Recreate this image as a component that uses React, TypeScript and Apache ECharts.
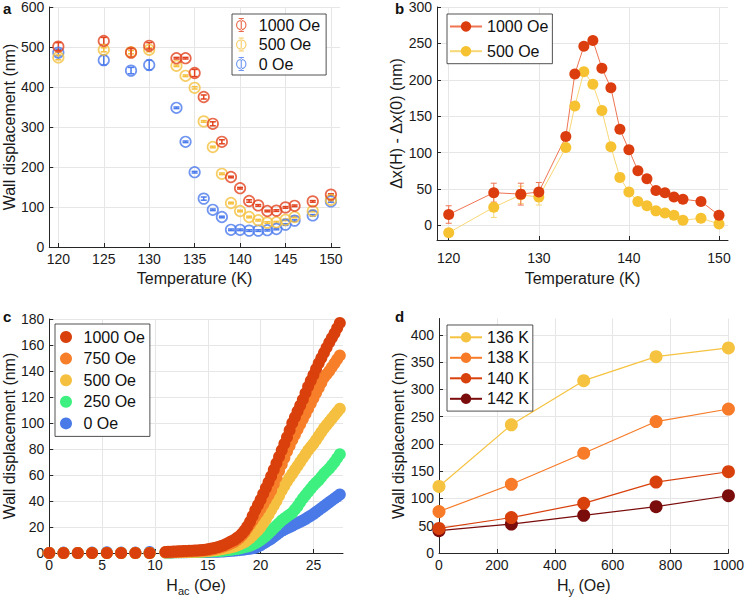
import React, { useEffect, useRef } from 'react';
import * as echarts from 'echarts';

// ---------- Data ----------
const tempK = [120, 125, 128, 130, 133, 134, 135, 136, 137, 138, 139, 140, 141, 142, 143, 144, 145, 146, 148, 150];
// panel a: wall displacement (nm)
const wallA1000 = [501, 515, 486, 503, 472, 472, 435, 375, 308, 263, 175, 147, 115, 104, 90, 91, 99, 103, 114, 131];
const wallA500 = [474, 493, 487, 493, 453, 428, 398, 314, 250, 183, 110, 90, 75, 67, 61, 62, 68, 75, 90, 118];
const wallA0 = [486, 467, 441, 455, 348, 263, 187, 121, 93, 75, 43, 43, 41, 41, 42, 45, 56, 66, 79, 114];
const errA1000 = [10, 9, 10, 8, 2, 2, 9, 5, 5, 5, 2, 2, 3, 2, 2, 2, 2, 2, 2, 2];
const errA500 = [6, 5, 4, 5, 2, 2, 3, 2, 2, 2, 2, 2, 2, 2, 2, 2, 2, 2, 2, 2];
const errA0 = [8, 12, 8, 12, 2, 2, 2, 4, 2, 2, 2, 2, 2, 2, 2, 2, 2, 2, 2, 2];
// panel b: Δx(H) - Δx(0) (nm)
const diffB1000 = [15, 45, 43, 46, 122, 208, 246, 254, 216, 189, 132, 104, 75, 64, 48, 45, 39, 36, 33, 14];
const diffB500 = [-10, 25, 42, 39, 107, 164, 211, 194, 158, 108, 66, 46, 33, 27, 20, 17, 14, 7, 10, 2];
const errB1000 = [12, 13, 15, 13, 3, 3, 3, 3, 3, 3, 3, 3, 3, 3, 3, 3, 3, 3, 3, 3];
const errB500 = [4, 14, 12, 11, 3, 3, 3, 3, 3, 3, 3, 3, 3, 3, 3, 3, 3, 3, 3, 3];
// panel c: wall displacement vs H_ac
const hacOe = [0, 1.35, 2.7, 4.05, 5.45, 6.8, 8.15, 9.5,
  11, 11.25, 11.5, 11.75, 12, 12.25, 12.5, 12.75, 13, 13.25, 13.5, 13.75, 14, 14.25, 14.5, 14.75,
  15, 15.25, 15.5, 15.75, 16, 16.25, 16.5, 16.75, 17, 17.25, 17.5, 17.75, 18, 18.25, 18.5, 18.75,
  19, 19.25, 19.5, 19.75, 20, 20.25, 20.5, 20.75, 21, 21.25, 21.5, 21.75, 22, 22.25, 22.5, 22.75,
  23, 23.25, 23.5, 23.75, 24, 24.25, 24.5, 24.75, 25, 25.25, 25.5, 25.75, 26, 26.25, 26.5, 26.75,
  27, 27.25, 27.5];
const wallC1000 = [0, 0, 0, 0, 0, 0, 0, 0,
  0.8, 0.9, 1.0, 1.1, 1.2, 1.3, 1.4, 1.5, 1.6, 1.7, 1.8, 1.9, 2.0, 2.1, 2.3, 2.5,
  2.8, 3.2, 3.6, 4.1, 4.6, 5.3, 6, 7, 8, 9, 10, 11.5, 13, 15, 17.5, 20.5,
  24, 28.5, 33, 37, 41, 45.5, 50, 54.5, 59, 64, 69, 74, 79, 84, 89, 94.5,
  100, 104.5, 109, 113.5, 118, 123, 128, 132.5, 137, 141.5, 146, 150, 154, 158, 162, 165.5,
  169, 173, 177];
const wallC750 = [0, 0, 0, 0, 0, 0, 0, 0,
  0.5, 0.55, 0.6, 0.7, 0.8, 0.9, 1.0, 1.1, 1.2, 1.3, 1.4, 1.5, 1.6, 1.7, 1.8, 1.9,
  2.1, 2.4, 2.8, 3.3, 3.8, 4.4, 5, 5.7, 6.5, 7.5, 8.5, 10, 11.5, 13.5, 16, 19,
  22, 25, 28, 31, 34, 37.5, 41, 44.5, 48, 53, 58, 63, 68, 73, 78, 82.5,
  87, 91, 95, 99, 103, 107, 111, 115, 119, 123, 127, 131, 135, 137.5, 140, 143,
  146, 149, 152];
const wallC500 = [0, 0, 0, 0, 0, 0, 0, 0,
  0.4, 0.45, 0.5, 0.55, 0.6, 0.65, 0.7, 0.75, 0.8, 0.85, 0.9, 0.95, 1.0, 1.1, 1.2, 1.35,
  1.5, 1.7, 2, 2.2, 2.5, 2.8, 3.2, 3.6, 4, 4.5, 5, 5.7, 6.5, 7.5, 8.5, 10,
  11.5, 13.5, 15.5, 17.5, 20, 23, 26, 29.5, 33, 36.5, 40, 44, 48, 51.5, 55, 58,
  61, 64, 67, 70, 73, 76, 79, 81.5, 84, 87, 90, 93, 96, 98.5, 101, 103.5,
  106, 108.5, 111];
const wallC250 = [0, 0, 0, 0, 0, 0, 0, 0,
  0.3, 0.35, 0.4, 0.45, 0.5, 0.55, 0.6, 0.65, 0.7, 0.75, 0.8, 0.85, 0.9, 0.95, 1.0, 1.05,
  1.1, 1.2, 1.3, 1.4, 1.5, 1.6, 1.8, 2, 2.2, 2.5, 2.8, 3.1, 3.5, 4, 4.5, 5,
  5.5, 6.5, 7.5, 8.7, 10, 11.5, 13, 15, 17, 19, 21, 23, 25, 26.5, 28, 29.5,
  31, 33.5, 36, 39, 42, 44.5, 47, 49.5, 52, 54, 56, 58.5, 61, 63, 65, 67.5,
  70, 73, 76];
const wallC0 = [0, 0.3, 0, 0.3, 0.6, 0.3, 0.3, 0.8,
  0.3, 0.35, 0.4, 0.45, 0.5, 0.55, 0.6, 0.6, 0.6, 0.65, 0.7, 0.7, 0.7, 0.75, 0.8, 0.8,
  0.8, 0.85, 0.9, 0.95, 1.0, 1.1, 1.2, 1.35, 1.5, 1.65, 1.8, 2.0, 2.2, 2.45, 2.7, 3.0,
  3.3, 3.6, 4, 5, 6, 7.2, 8.5, 9.7, 11, 12.5, 14, 15.5, 17, 18, 19, 20,
  21, 22, 23, 24, 25, 26.2, 27.5, 28.7, 30, 31.5, 33, 34.5, 36, 37.5, 39, 40.5,
  42, 43.5, 45];
// panel d: wall displacement vs H_y
const hyOe = [0, 250, 500, 750, 1000];
const wallD136 = [122, 235, 316, 360, 376];
const wallD138 = [76, 126, 183, 241, 264];
const wallD140 = [45, 65, 91, 130, 149];
const wallD142 = [41, 53, 69, 85, 105];

// tick labels
const ticksAX = [120, 125, 130, 135, 140, 145, 150];
const ticksAY = [0, 100, 200, 300, 400, 500, 600];
const ticksBX = [120, 130, 140, 150];
const ticksBY = [0, 50, 100, 150, 200, 250, 300];
const ticksCX = [0, 5, 10, 15, 20, 25];
const ticksCY = [0, 20, 40, 60, 80, 100, 120, 140, 160, 180];
const ticksDX = [0, 200, 400, 600, 800, 1000];
const ticksDY = [0, 50, 100, 150, 200, 250, 300, 350, 400];

// ---------- Styling ----------
const FONT = '"Liberation Sans", Arial, Helvetica, sans-serif';
const AXIS_COLOR = '#262626';
const GRID_COLOR = '#e6e6e6';

const colA = { r: '#e2431e', y: '#f5c03e', b: '#4b7bec' };
const colB = { r: '#dc3d0e', rl: '#ee7452', y: '#f6c232', yl: '#f8d775' };
const colC = { r: '#d9400c', o: '#f77f2a', y: '#f5c040', g: '#3ef07f', b: '#4a7ae8' };
const colD = { k136: '#f6c340', k138: '#f77b28', k140: '#d8400c', k142: '#7a0c0c' };

const ringBarIcon =
  'path://M4,10 A6,6 0 1,0 16,10 A6,6 0 1,0 4,10 Z M5.3,10 A4.7,4.7 0 1,1 14.7,10 A4.7,4.7 0 1,1 5.3,10 Z ' +
  'M9.35,2 L10.65,2 L10.65,18 L9.35,18 Z M7,2 L13,2 L13,3.2 L7,3.2 Z M7,16.8 L13,16.8 L13,18 L7,18 Z';

const plainNum = (v: number) => String(v);

function makeAxis(gridIndex: number, min: number, max: number, ticks: number[], extra: any = {}) {
  return {
    gridIndex,
    type: 'value',
    min,
    max,
    axisLine: { show: true, onZero: false, lineStyle: { color: AXIS_COLOR, width: 1 } },
    axisTick: { show: true, inside: true, length: 4, customValues: ticks, lineStyle: { color: AXIS_COLOR } },
    axisLabel: { customValues: ticks, fontSize: 14, color: '#1a1a1a', margin: 5, fontFamily: FONT, formatter: plainNum },
    splitLine: { show: true, lineStyle: { color: GRID_COLOR, width: 1 } },
    nameTextStyle: { fontSize: 16, color: '#1a1a1a', fontFamily: FONT },
    ...extra,
  };
}

function errRender(color: string, width: number) {
  return (params: any, api: any) => {
    const x = api.value(0);
    const y = api.value(1);
    const e = api.value(2);
    const p1 = api.coord([x, y + e]);
    const p2 = api.coord([x, y - e]);
    const hw = 3;
    const style = { stroke: color, lineWidth: width, fill: 'none' };
    return {
      type: 'group',
      children: [
        { type: 'line', shape: { x1: p1[0], y1: p1[1], x2: p2[0], y2: p2[1] }, style },
        { type: 'line', shape: { x1: p1[0] - hw, y1: p1[1], x2: p1[0] + hw, y2: p1[1] }, style },
        { type: 'line', shape: { x1: p2[0] - hw, y1: p2[1], x2: p2[0] + hw, y2: p2[1] }, style },
      ],
    };
  };
}

function errSeries(name: string, axis: number, xs: number[], ys: number[], es: number[], color: string, width: number) {
  return {
    name,
    type: 'custom',
    xAxisIndex: axis,
    yAxisIndex: axis,
    silent: true,
    renderItem: errRender(color, width),
    encode: { x: 0, y: 1 },
    data: xs.map((x, i) => [x, ys[i], es[i]]),
  };
}

function openScatter(name: string, ys: number[], color: string) {
  return {
    name,
    type: 'scatter',
    xAxisIndex: 0,
    yAxisIndex: 0,
    symbol: 'circle',
    symbolSize: 10.5,
    itemStyle: { color: 'rgba(0,0,0,0)', borderColor: color, borderWidth: 1.7 },
    data: tempK.map((t, i) => [t, ys[i]]),
  };
}

function lineB(name: string, ys: number[], color: string, light: string) {
  return {
    name,
    type: 'line',
    xAxisIndex: 1,
    yAxisIndex: 1,
    symbol: 'circle',
    symbolSize: 11,
    lineStyle: { color: light, width: 1 },
    itemStyle: { color },
    data: tempK.map((t, i) => [t, ys[i]]),
  };
}

function scatterC(name: string, ys: number[], color: string) {
  return {
    name,
    type: 'scatter',
    xAxisIndex: 2,
    yAxisIndex: 2,
    symbol: 'circle',
    symbolSize: 12,
    itemStyle: { color, opacity: 1 },
    data: hacOe.map((h, i) => [h, ys[i]]),
  };
}

function lineD(name: string, ys: number[], color: string) {
  return {
    name,
    type: 'line',
    xAxisIndex: 3,
    yAxisIndex: 3,
    symbol: 'circle',
    symbolSize: 13,
    lineStyle: { color, width: 1.2 },
    itemStyle: { color },
    data: hyOe.map((h, i) => [h, ys[i]]),
  };
}

const stripName = (n: string) => n.split('|')[1];

function buildOption() {
  const legendText = { fontSize: 16, color: '#111', fontFamily: FONT };
  const subRich = {
    n: { fontSize: 16, color: '#1a1a1a', fontFamily: FONT },
    s: { fontSize: 11, color: '#1a1a1a', fontFamily: FONT, padding: [10, 0, 0, 0] },
  };
  return {
    animation: false,
    backgroundColor: '#ffffff',
    textStyle: { fontFamily: FONT },
    title: [
      { text: 'a', left: 3, top: 1, padding: 0, textStyle: { fontSize: 15, fontWeight: 'bold', color: '#111', fontFamily: FONT } },
      { text: 'b', left: 395, top: 1, padding: 0, textStyle: { fontSize: 15, fontWeight: 'bold', color: '#111', fontFamily: FONT } },
      { text: 'c', left: 3, top: 309, padding: 0, textStyle: { fontSize: 15, fontWeight: 'bold', color: '#111', fontFamily: FONT } },
      { text: 'd', left: 395, top: 309, padding: 0, textStyle: { fontSize: 15, fontWeight: 'bold', color: '#111', fontFamily: FONT } },
    ],
    grid: [
      { left: 48, top: 6, width: 292, height: 241 },
      { left: 437, top: 7, width: 291, height: 233 },
      { left: 47.5, top: 319, width: 295.5, height: 234 },
      { left: 439, top: 318.5, width: 292, height: 234.5 },
    ],
    xAxis: [
      makeAxis(0, 119, 151, ticksAX, { name: 'Temperature (K)', nameLocation: 'middle', nameGap: 23 }),
      makeAxis(1, 118.7, 151, ticksBX, {
        name: 'Temperature (K)', nameLocation: 'middle', nameGap: 30,
        axisLabel: { customValues: ticksBX, fontSize: 14, color: '#1a1a1a', margin: 11, fontFamily: FONT, formatter: plainNum },
      }),
      makeAxis(2, 0, 27.8, ticksCX, {
        name: '{n|H}{s|ac}{n| (Oe)}', nameLocation: 'middle', nameGap: 22,
        nameTextStyle: { fontSize: 16, color: '#1a1a1a', fontFamily: FONT, rich: subRich },
      }),
      makeAxis(3, 0, 1000, ticksDX, {
        interval: 200,
        name: '{n|H}{s|y}{n| (Oe)}', nameLocation: 'middle', nameGap: 22,
        nameTextStyle: { fontSize: 16, color: '#1a1a1a', fontFamily: FONT, rich: subRich },
      }),
    ],
    yAxis: [
      makeAxis(0, 0, 600, ticksAY, { interval: 100, name: 'Wall displacement (nm)', nameLocation: 'middle', nameGap: 31 }),
      makeAxis(1, -20, 300, ticksBY, { name: 'Δx(H) - Δx(0) (nm)', nameLocation: 'middle', nameGap: 32 }),
      makeAxis(2, 0, 180, ticksCY, { interval: 20, name: 'Wall displacement (nm)', nameLocation: 'middle', nameGap: 31 }),
      makeAxis(3, 0, 430, ticksDY, { name: 'Wall displacement (nm)', nameLocation: 'middle', nameGap: 32 }),
    ],
    legend: [
      {
        orient: 'vertical', left: 232, top: 14, itemWidth: 25, itemHeight: 14, itemGap: 3.5,
        padding: [3, 6, 3, 4], borderColor: AXIS_COLOR, borderWidth: 0.8, backgroundColor: '#fff',
        textStyle: legendText, formatter: stripName, selectedMode: false,
        data: [
          { name: 'a|1000 Oe', icon: ringBarIcon, itemStyle: { color: colA.r, borderWidth: 0 } },
          { name: 'a|500 Oe', icon: ringBarIcon, itemStyle: { color: colA.y, borderWidth: 0 } },
          { name: 'a|0 Oe', icon: ringBarIcon, itemStyle: { color: colA.b, borderWidth: 0 } },
        ],
      },
      {
        orient: 'vertical', left: 447, top: 14, itemWidth: 32, itemHeight: 13, itemGap: 8.7,
        padding: [4.5, 4, 4.5, 2], borderColor: AXIS_COLOR, borderWidth: 0.8, backgroundColor: '#fff',
        textStyle: legendText, formatter: stripName, selectedMode: false,
        data: ['b|1000 Oe', 'b|500 Oe'],
      },
      {
        orient: 'vertical', left: 55, top: 324, itemWidth: 25, itemHeight: 12, itemGap: 5.6, icon: 'circle',
        padding: [5, 5, 5, 5], borderColor: AXIS_COLOR, borderWidth: 0.8, backgroundColor: '#fff',
        textStyle: legendText, formatter: stripName, selectedMode: false,
        data: ['c|1000 Oe', 'c|750 Oe', 'c|500 Oe', 'c|250 Oe', 'c|0 Oe'],
      },
      {
        orient: 'vertical', left: 447, top: 325, itemWidth: 32, itemHeight: 13, itemGap: 4.5,
        padding: [4.3, 4, 4.3, 2], borderColor: AXIS_COLOR, borderWidth: 0.8, backgroundColor: '#fff',
        textStyle: legendText, formatter: stripName, selectedMode: false,
        data: ['d|136 K', 'd|138 K', 'd|140 K', 'd|142 K'],
      },
    ],
    series: [
      // panel a
      errSeries('a-err-0', 0, tempK, wallA0, errA0, colA.b, 1.5),
      openScatter('a|0 Oe', wallA0, colA.b),
      errSeries('a-err-500', 0, tempK, wallA500, errA500, colA.y, 1.5),
      openScatter('a|500 Oe', wallA500, colA.y),
      errSeries('a-err-1000', 0, tempK, wallA1000, errA1000, colA.r, 1.5),
      openScatter('a|1000 Oe', wallA1000, colA.r),
      // panel b
      errSeries('b-err-500', 1, tempK, diffB500, errB500, colB.yl, 1),
      lineB('b|500 Oe', diffB500, colB.y, colB.yl),
      errSeries('b-err-1000', 1, tempK, diffB1000, errB1000, colB.rl, 1),
      lineB('b|1000 Oe', diffB1000, colB.r, colB.rl),
      // panel c
      scatterC('c|0 Oe', wallC0, colC.b),
      scatterC('c|250 Oe', wallC250, colC.g),
      scatterC('c|500 Oe', wallC500, colC.y),
      scatterC('c|750 Oe', wallC750, colC.o),
      scatterC('c|1000 Oe', wallC1000, colC.r),
      // panel d
      lineD('d|142 K', wallD142, colD.k142),
      lineD('d|140 K', wallD140, colD.k140),
      lineD('d|138 K', wallD138, colD.k138),
      lineD('d|136 K', wallD136, colD.k136),
    ],
  };
}

export default function App() {
  const ref = useRef<HTMLDivElement>(null);
  useEffect(() => {
    if (!ref.current) return;
    const chart = echarts.init(ref.current, undefined, { renderer: 'svg' });
    chart.setOption(buildOption() as any);
    return () => {
      chart.dispose();
    };
  }, []);
  return (
    <div
      ref={ref}
      style={{ position: 'fixed', left: 0, top: 0, width: 747, height: 598, background: '#fff' }}
    />
  );
}
